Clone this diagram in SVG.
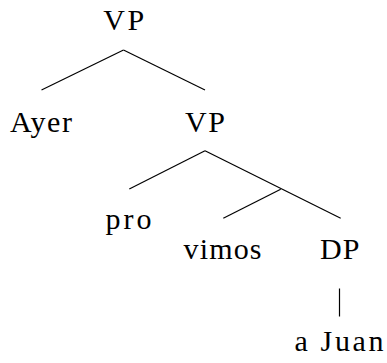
<svg xmlns="http://www.w3.org/2000/svg" width="387" height="363" viewBox="0 0 387 363">
  <style>
    text { font-family: "Liberation Serif", "Times New Roman", "DejaVu Serif", serif; font-size: 30px; fill: #000; text-anchor: middle; }
    .edge { stroke: #000; stroke-width: 1.2; fill: none; stroke-linecap: butt; }
  </style>
  <rect width="387" height="363" fill="#fff"/>
  <g id="connectors">
    <line class="edge" x1="123.5" y1="50" x2="41.5" y2="90"/>
    <line class="edge" x1="123.5" y1="50" x2="205" y2="90"/>
    <line class="edge" x1="205" y1="150.7" x2="129.3" y2="189"/>
    <line class="edge" x1="205" y1="150.7" x2="340.7" y2="218.3"/>
    <line class="edge" x1="280.7" y1="189.2" x2="223.3" y2="218.3"/>
    <line class="edge" x1="339.5" y1="288.5" x2="339.5" y2="316.5"/>
  </g>
  <g id="node-vp-top"><text x="123.8" y="29.5" textLength="41">VP</text></g>
  <g id="node-ayer"><text x="41" y="131.5" textLength="62">Ayer</text></g>
  <g id="node-vp"><text x="205" y="131.5" textLength="40">VP</text></g>
  <g id="node-pro"><text x="128.5" y="229" textLength="46">pro</text></g>
  <g id="node-vimos"><text x="222.5" y="259" textLength="78">vimos</text></g>
  <g id="node-dp"><text x="339.7" y="259" textLength="39.5">DP</text></g>
  <g id="node-ajuan"><text x="339" y="350.8" textLength="89">a Juan</text></g>
</svg>
